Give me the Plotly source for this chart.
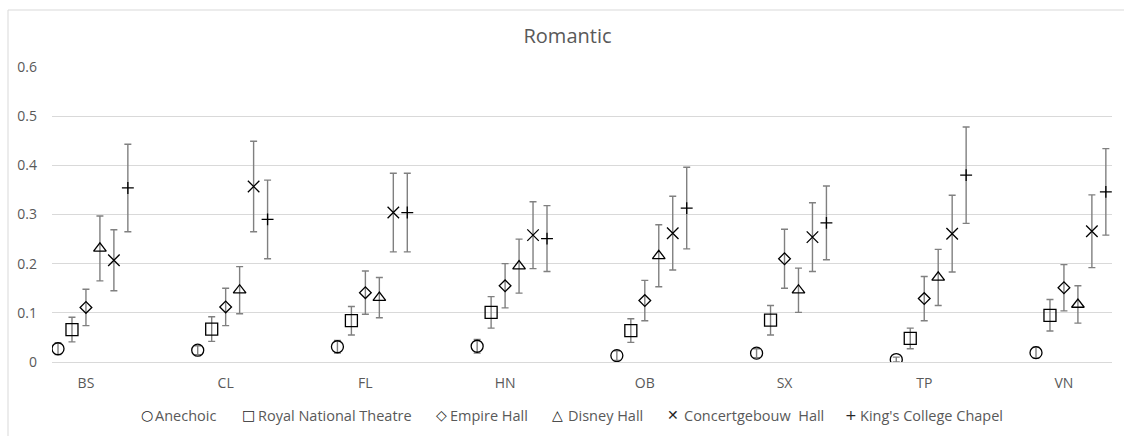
import plotly.graph_objects as go

# Instrument categories along the horizontal axis
categories = ["BS", "CL", "FL", "HN", "OB", "SX", "TP", "VN"]

# Hall names (legend order)
series_names = [
    "Anechoic",
    "Royal National Theatre",
    "Empire Hall",
    "Disney Hall",
    "Concertgebouw  Hall",
    "King's College Chapel",
]

# Mean values per hall, one entry per category
anechoic = [0.027, 0.024, 0.031, 0.032, 0.013, 0.018, 0.005, 0.019]
royal_national = [0.066, 0.067, 0.084, 0.101, 0.064, 0.085, 0.048, 0.095]
empire_hall = [0.111, 0.112, 0.141, 0.155, 0.125, 0.210, 0.129, 0.151]
disney_hall = [0.231, 0.146, 0.131, 0.195, 0.216, 0.146, 0.172, 0.117]
concertgebouw = [0.207, 0.357, 0.304, 0.258, 0.262, 0.254, 0.261, 0.266]
kings_college = [0.354, 0.290, 0.304, 0.251, 0.313, 0.283, 0.380, 0.346]

# Symmetric error-bar half-widths
anechoic_err = [0.012, 0.009, 0.013, 0.014, 0.010, 0.009, 0.005, 0.011]
royal_national_err = [0.025, 0.025, 0.029, 0.032, 0.024, 0.030, 0.021, 0.032]
empire_hall_err = [0.037, 0.038, 0.044, 0.045, 0.041, 0.060, 0.045, 0.047]
disney_hall_err = [0.066, 0.048, 0.041, 0.055, 0.063, 0.045, 0.057, 0.038]
concertgebouw_err = [0.062, 0.092, 0.080, 0.068, 0.075, 0.070, 0.078, 0.074]
kings_college_err = [0.089, 0.080, 0.080, 0.067, 0.083, 0.075, 0.098, 0.088]

y_ticks = [0, 0.1, 0.2, 0.3, 0.4, 0.5, 0.6]
y_tick_labels = ["0", "0.1", "0.2", "0.3", "0.4", "0.5", "0.6"]

values = [anechoic, royal_national, empire_hall, disney_hall, concertgebouw, kings_college]
errors = [anechoic_err, royal_national_err, empire_hall_err, disney_hall_err,
          concertgebouw_err, kings_college_err]

symbols = ["circle-open", "square-open", "diamond-open", "triangle-up-open",
           "x-thin-open", "cross-thin-open"]
sizes = [12, 12, 9, 11, 11.5, 8.5]
legend_glyphs = ["○", "□", "◇", "△", "✕", "+"]

FONT = "Open Sans"
TEXT_GREY = "#595959"
GRID = "#d9d9d9"

# Within each category the halls are spread out side by side
OFFSET_STEP = 0.1
LABEL_SHIFT = 0.2

fig = go.Figure()
for s, (name, vals, errs) in enumerate(zip(series_names, values, errors)):
    xs = [i + s * OFFSET_STEP for i in range(len(categories))]
    fig.add_trace(go.Scatter(
        x=xs, y=vals, name=name, mode="markers",
        marker=dict(symbol=symbols[s], size=sizes[s], color="black",
                    line=dict(color="black", width=1.3)),
        error_y=dict(type="data", array=errs, visible=True,
                     color="#808080", thickness=1.4, width=3.5),
        showlegend=False,
    ))

# Plot-area geometry (pixels) used to place the legend and the frame
W, H = 1124, 436
ML, MR, MT, MB = 52, 12, 67, 74
PW, PH = W - ML - MR, H - MT - MB


def px_x(p):
    return (p - ML) / PW


def px_y(p):
    return (H - MB - p) / PH


# Legend row beneath the axis: a glyph followed by the hall name
legend_glyph_px = [147, 249, 441, 557.5, 672.5, 851]
legend_text_px = [153, 256, 448, 566, 682, 858]
LEGEND_Y = 415
annotations = []
for glyph, name, gx, tx in zip(legend_glyphs, series_names, legend_glyph_px, legend_text_px):
    annotations.append(dict(
        x=px_x(gx), y=px_y(LEGEND_Y), xref="paper", yref="paper",
        xanchor="center", yanchor="middle", showarrow=False,
        text=glyph, font=dict(family="DejaVu Sans", size=14, color="#262626"),
    ))
    annotations.append(dict(
        x=px_x(tx), y=px_y(LEGEND_Y), xref="paper", yref="paper",
        xanchor="left", yanchor="middle", showarrow=False,
        text=name.replace("  ", "\u00a0\u00a0"),
        font=dict(family=FONT, size=14.5, color=TEXT_GREY),
    ))

fig.update_layout(
    width=W, height=H, autosize=False,
    margin=dict(l=ML, r=MR, t=MT, b=MB),
    paper_bgcolor="white", plot_bgcolor="white",
    title=dict(text="Romantic", x=567.5 / W, xanchor="center",
               xref="container", y=1 - 36 / H, yanchor="middle",
               font=dict(family=FONT, size=20, color=TEXT_GREY)),
    xaxis=dict(
        range=[-0.043, 7.544],
        tickvals=[i + LABEL_SHIFT for i in range(len(categories))],
        ticktext=categories,
        showgrid=False, zeroline=False, showline=False,
        ticks="", ticklabelstandoff=11,
        tickfont=dict(family=FONT, size=14, color=TEXT_GREY),
    ),
    yaxis=dict(
        range=[0, 0.6],
        tickvals=y_ticks, ticktext=y_tick_labels,
        showgrid=True, gridcolor=GRID, gridwidth=1,
        zeroline=True, zerolinecolor=GRID, zerolinewidth=1,
        showline=False, ticks="", ticklabelstandoff=14,
        tickfont=dict(family=FONT, size=14, color=TEXT_GREY),
    ),
    annotations=annotations,
    shapes=[dict(type="rect", xref="paper", yref="paper",
                 x0=px_x(8), x1=px_x(1135), y0=px_y(450), y1=px_y(10),
                 line=dict(color=GRID, width=1), fillcolor="rgba(0,0,0,0)",
                 layer="below")],
)

fig.write_html("out.html")
